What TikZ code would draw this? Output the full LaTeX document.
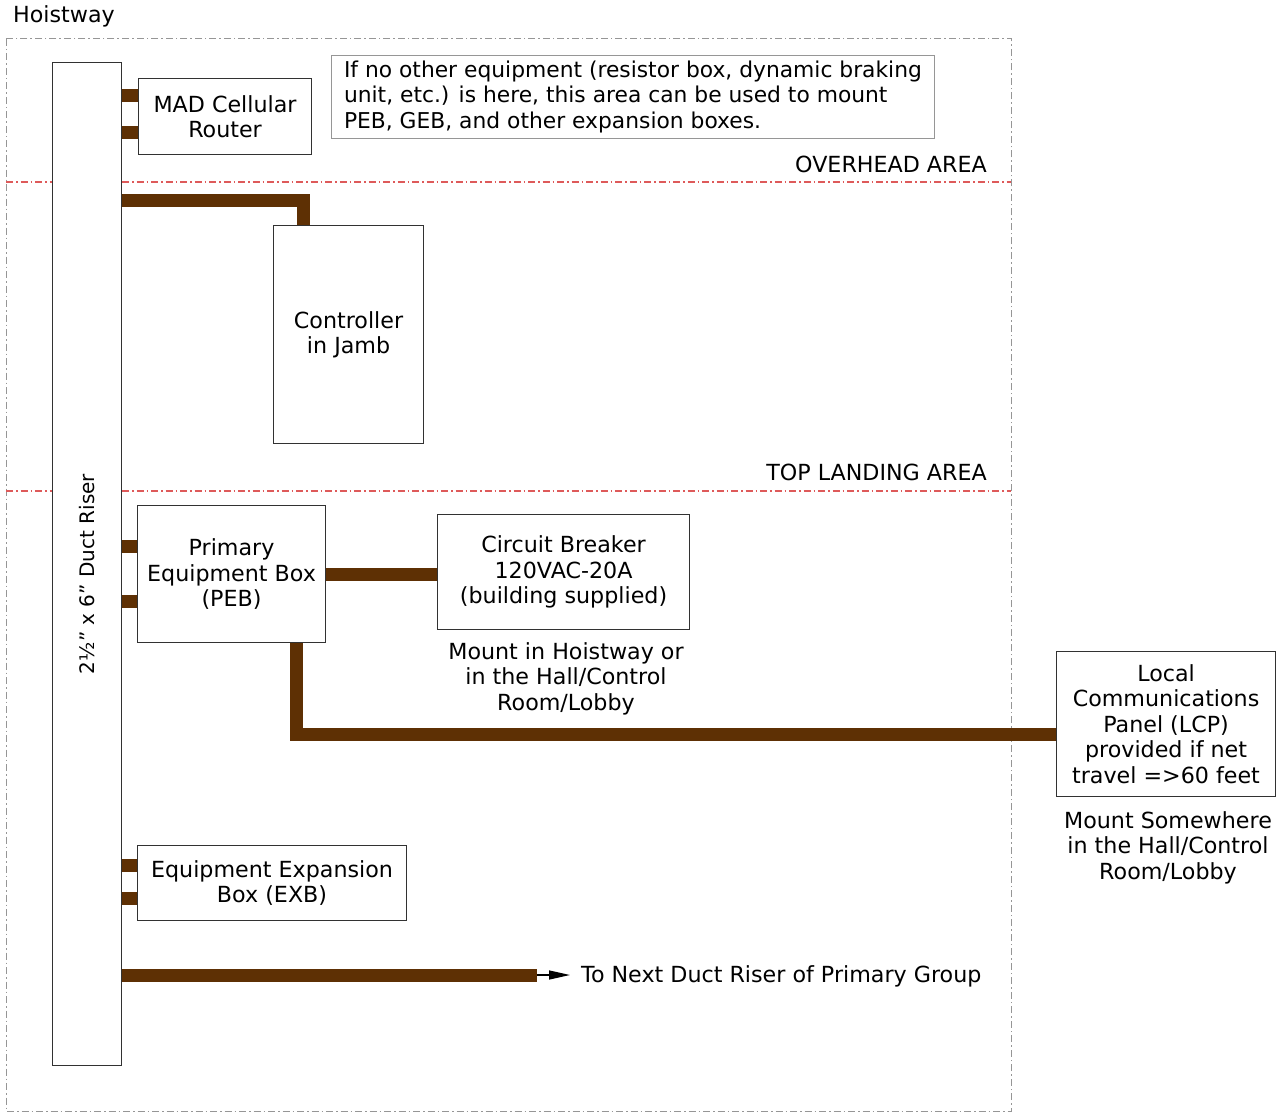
\documentclass[tikz,border=0pt]{standalone}
\usepackage{fontspec}
\setmainfont{DejaVu Sans}
\usetikzlibrary{arrows.meta}
\definecolor{cablebrown}{RGB}{94,48,4}
\definecolor{zonered}{RGB}{222,90,90}
\definecolor{shaftgray}{RGB}{150,150,150}
\definecolor{boxline}{RGB}{50,50,50}
\tikzset{
  x=1pt, y=-1pt,
  every node/.style={font=\fontsize{22.2}{25.5}\selectfont, inner sep=0pt},
  unit/.style={draw=boxline, line width=1.1pt, fill=white, align=center, anchor=north west},
  note/.style={draw=shaftgray, line width=0.9pt, fill=white, align=left, anchor=north west},
  cable/.style={draw=cablebrown, line width=13pt},
  zone/.style={draw=zonered, line width=1.1pt, dash pattern=on 7pt off 3pt on 1.5pt off 3pt},
  shaft/.style={draw=shaftgray, line width=1pt, dash pattern=on 7pt off 3pt on 1.5pt off 3pt},
  caption/.style={align=center, anchor=north},
}
\begin{document}
\begin{tikzpicture}
\useasboundingbox (0,0) rectangle (1277,1113);

% hoistway outline and zone boundaries
\node[anchor=west] (hoistlbl) at (13,16) {Hoistway};
\draw[shaft] (6,39) rectangle (1011,1111);
\draw[zone] (6,182) -- (1011,182);
\draw[zone] (6,491) -- (1011,491);
\node[anchor=east] (overhead) at (987,164) {OVERHEAD AREA};
\node[anchor=east] (toplanding) at (987,472) {TOP LANDING AREA};

% duct riser
\node[unit, minimum width=69pt, minimum height=1003pt] (riser) at (52,62) {};
\node[rotate=90, font=\fontsize{20}{24}\selectfont] (riserlbl) at (87,574) {2½" x 6" Duct Riser};

% equipment boxes
\node[unit, minimum width=173pt, minimum height=76pt] (mad) at (138,78) {MAD Cellular\\Router};
\node[note, minimum width=603pt, minimum height=83pt, font=\fontsize{21.8}{25.5}\selectfont] (hint) at (331,55)
  {If no other equipment (resistor box, dynamic braking\\unit, etc.) is here, this area can be used to mount\\PEB, GEB, and other expansion boxes.};
\node[unit, minimum width=150pt, minimum height=218pt] (ctrl) at (273,225) {Controller\\in Jamb};
\node[unit, minimum width=188pt, minimum height=137pt] (peb) at (137,505) {Primary\\Equipment Box\\(PEB)};
\node[unit, minimum width=252pt, minimum height=115pt] (cb) at (437,514) {Circuit Breaker\\120VAC-20A\\(building supplied)};
\node[unit, minimum width=219pt, minimum height=145pt] (lcp) at (1056,651) {Local\\Communications\\Panel (LCP)\\provided if net\\travel =>60 feet};
\node[unit, minimum width=269pt, minimum height=75pt] (exb) at (137,845) {Equipment Expansion\\Box (EXB)};

\node[caption] (cbnote) at (566,642) {Mount in Hoistway or\\in the Hall/Control\\Room/Lobby};
\node[caption] (lcpnote) at (1168,811) {Mount Somewhere\\in the Hall/Control\\Room/Lobby};

% cabling
\draw[cable] (riser.east |- 0,96) -- (mad.west |- 0,96);
\draw[cable] (riser.east |- 0,133) -- (mad.west |- 0,133);
\draw[cable] (riser.east |- 0,200) -| (ctrl.north -| 303,0);
\draw[cable] (riser.east |- 0,546) -- (peb.west |- 0,546);
\draw[cable] (riser.east |- 0,601) -- (peb.west |- 0,601);
\draw[cable] (peb.east |- 0,574) -- (cb.west |- 0,574);
\draw[cable] (peb.south -| 296,0) |- (lcp.west |- 0,734);
\draw[cable] (riser.east |- 0,865) -- (exb.west |- 0,865);
\draw[cable] (riser.east |- 0,898) -- (exb.west |- 0,898);

% feed to next riser
\coordinate (feedend) at (537,975);
\draw[cable, line cap=butt] (riser.east |- feedend) -- (feedend);
\node[anchor=west] (nextlbl) at (581,976) {To Next Duct Riser of Primary Group};
\draw[line width=1.4pt, -{Stealth[length=21pt,width=9pt,inset=0pt]}, shorten >=11pt] (feedend) -- (nextlbl.west |- feedend);
\end{tikzpicture}
\end{document}
